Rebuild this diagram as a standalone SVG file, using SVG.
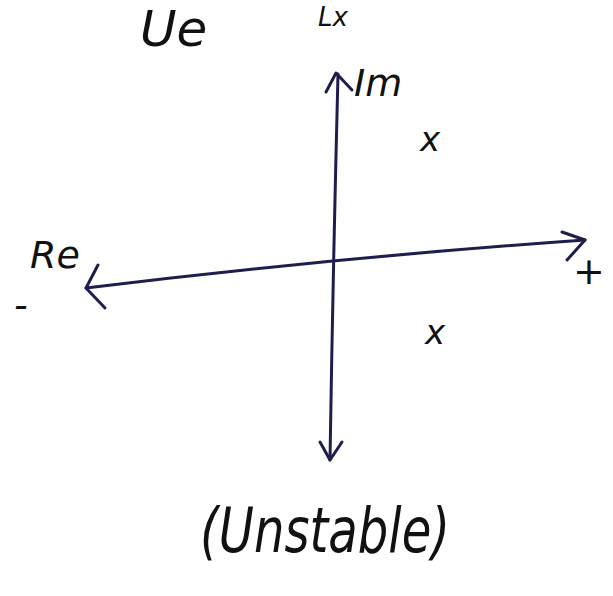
<svg xmlns="http://www.w3.org/2000/svg" width="613" height="596" viewBox="0 0 613 596">
<style>
.ax{fill:none;stroke:#1e1e4e;stroke-width:3;stroke-linecap:round;stroke-linejoin:round}
.hw{font-family:"DejaVu Sans","Liberation Sans",sans-serif;font-style:italic;fill:#111}
</style>
<rect width="613" height="596" fill="#fff"/>
<g id="header">
<text class="hw" x="140" y="46" font-size="50">Ue</text>
<text class="hw" x="318" y="26" font-size="26">Lx</text>
</g>
<g id="connectors">
<path class="ax" d="M330,460 Q333,270 338,74"/>
<path class="ax" d="M326,92 L336,73 L352,90"/>
<path class="ax" d="M320,442 L330,460 L342,442"/>
<path class="ax" d="M86,288 Q330,258 585,240"/>
<path class="ax" d="M98,265 L86,288 L105,308"/>
<path class="ax" d="M562,232 L585,240 L567,260"/>
</g>
<g id="im-label"><text class="hw" x="354" y="96" font-size="38">Im</text></g>
<g id="re-label"><text class="hw" x="30" y="268" font-size="38">Re</text></g>
<g id="minus"><text class="hw" x="14" y="318" font-size="38">-</text></g>
<g id="plus"><text class="hw" x="573" y="284" font-size="38">+</text></g>
<g id="pole-upper"><text class="hw" x="420" y="151" font-size="34">x</text></g>
<g id="pole-lower"><text class="hw" x="425" y="344" font-size="34">x</text></g>
<g id="caption"><text class="hw" x="200" y="552" font-size="62" textLength="250" lengthAdjust="spacingAndGlyphs">(Unstable)</text></g>
</svg>
